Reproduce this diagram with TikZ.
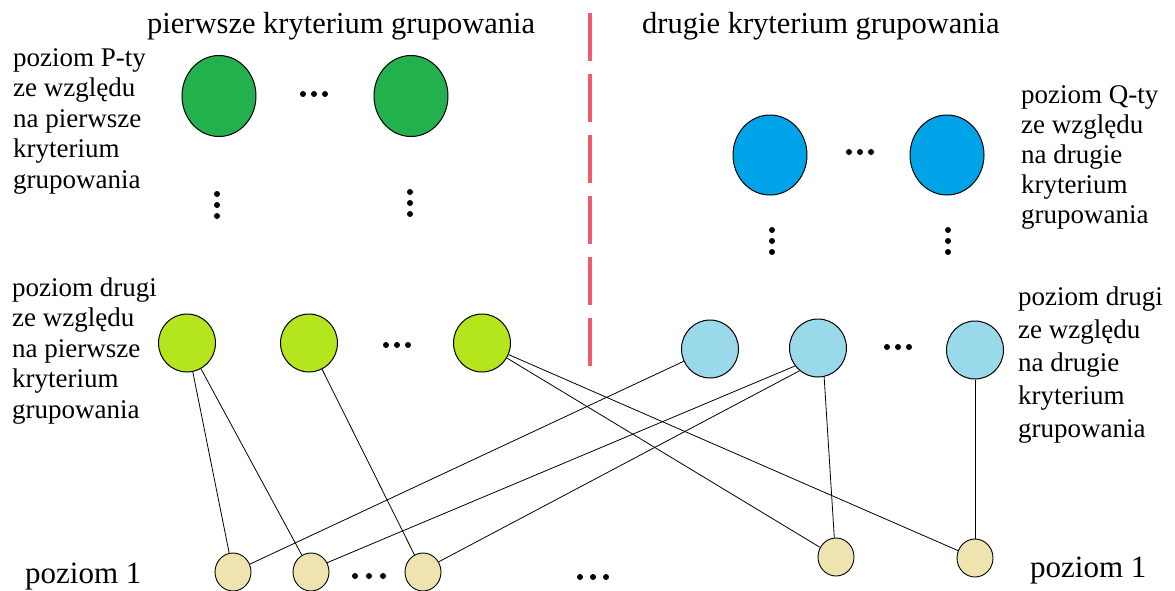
\documentclass[tikz,border=0pt]{standalone}
\usepackage{fontspec}
\setmainfont{Liberation Serif}
\usetikzlibrary{shapes.geometric}
\definecolor{gdark}{RGB}{34,177,76}
\definecolor{bdark}{RGB}{0,162,232}
\definecolor{glight}{RGB}{181,230,29}
\definecolor{blight}{RGB}{153,217,234}
\definecolor{tan}{RGB}{239,228,176}
\definecolor{redline}{RGB}{242,90,110}
\begin{document}
\begin{tikzpicture}[x=1pt,y=-1pt,
  bigc/.style={ellipse,draw=black,line width=1pt,minimum width=74pt,minimum height=81pt,inner sep=0},
  midc/.style={ellipse,draw=black,line width=1pt,minimum width=57pt,minimum height=58pt,inner sep=0},
  smallc/.style={ellipse,draw=black,line width=0.9pt,minimum width=36pt,minimum height=38pt,inner sep=0},
  lbl/.style={font=\fontsize{27}{30.5}\selectfont,align=left,inner sep=0,anchor=base west},
  head/.style={font=\fontsize{30.5}{34}\selectfont,inner sep=0,anchor=base west},
  lvl/.style={font=\fontsize{31}{34}\selectfont,inner sep=0,anchor=base west},
  dot/.style={circle,fill=black,inner sep=0,minimum size=6pt},
  conn/.style={line width=0.8pt,black}]
\useasboundingbox (0,0) rectangle (1175,590);
\fill[white] (0,0) rectangle (1175,590);
% divider
\coordinate (dtop) at (590,13);
\coordinate (dbot) at (590,368);
\draw[redline,line width=4.5pt,dash pattern=on 48pt off 13pt] (dtop) -- (dbot);
% headings
\node[head] (h1) at (147,33) {pierwsze kryterium grupowania};
\node[head] (h2) at (642,33) {drugie kryterium grupowania};
% labels (base anchor = last line)
\node[lbl] (l1) at (13,188) {poziom P-ty\\ze względu\\na pierwsze\\kryterium\\grupowania};
\node[lbl] (l2) at (12,418) {poziom drugi\\ze względu\\na pierwsze\\kryterium\\grupowania};
\node[lbl,font=\fontsize{27}{30}\selectfont] (l3) at (1021,223) {poziom Q-ty\\ze względu\\na drugie\\kryterium\\grupowania};
\node[lbl,font=\fontsize{27}{33}\selectfont] (l4) at (1018,437) {poziom drugi\\ze względu\\na drugie\\kryterium\\grupowania};
\node[lvl] (p1a) at (25,583) {poziom 1};
\node[lvl] (p1b) at (1030,577) {poziom 1};
% top green
\node[bigc,fill=gdark] (G1) at (219,96) {};
\node[bigc,fill=gdark] (G2) at (411,96) {};
% top blue
\node[bigc,fill=bdark,minimum height=80pt] (Q1) at (770,155) {};
\node[bigc,fill=bdark,minimum height=80pt] (Q2) at (947,155) {};
% level 2
\node[midc,fill=glight] (L1) at (187,343) {};
\node[midc,fill=glight] (L2) at (309,343) {};
\node[midc,fill=glight] (L3) at (482,343) {};
\node[midc,fill=blight] (R1) at (710,349) {};
\node[midc,fill=blight] (R2) at (818,348) {};
\node[midc,fill=blight] (R3) at (975,350) {};
% level 1
\node[smallc,fill=tan] (B1) at (233,572) {};
\node[smallc,fill=tan] (B2) at (311,572) {};
\node[smallc,fill=tan] (B3) at (423,572) {};
\node[smallc,fill=tan] (B4) at (836,557) {};
\node[smallc,fill=tan] (B5) at (975,558) {};
% dots
\foreach \n/\x/\y in {a/303/94,b/314/94,c/325/94,
  d/849/152,e/860/152,f/871/152,
  g/386/345,h/397/345,i/408/345,
  j/887/347,k/898/347,l/909/347,
  m/355/576,n/369/576,o/383/576,
  p/580/577,q/593/577,r/606/577}
  \node[dot] (d\n) at (\x,\y) {};
\foreach \n/\x/\y in {a/217/194,b/217/205,c/217/216,
  d/410/192,e/410/203,f/410/214,
  g/772/230,h/772/241,i/772/252,
  j/948/230,k/948/241,l/948/252}
  \node[dot] (v\n) at (\x,\y) {};
% connectors
\draw[conn] (L1) -- (B1);
\draw[conn] (L1) -- (B2);
\draw[conn] (L2) -- (B3);
\draw[conn] (L3) -- (B4);
\draw[conn] (L3) -- (B5);
\draw[conn] (R1) -- (B1);
\draw[conn] (R2.218) -- (B2.30);
\draw[conn] (R2.231) -- (B3.33);
\draw[conn] (R2.282) -- (B4.95);
\draw[conn] (R3) -- (B5);
\end{tikzpicture}
\end{document}
